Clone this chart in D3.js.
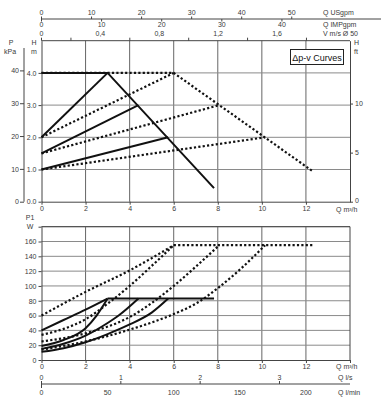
<!DOCTYPE html>
<html>
<head>
<meta charset="utf-8">
<script src="https://cdn.jsdelivr.net/npm/d3@7"></script>
<style>
  body { margin: 0; background: #fff; }
  svg { display: block; }
  text { font-family: "Liberation Sans", Arial, sans-serif; font-size: 7px; fill: #3a3a3a; }
</style>
</head>
<body>
<svg id="chart" width="383" height="405"></svg>
<script>
// ---- tick values ----
const qTicks = [0, 2, 4, 6, 8, 10, 12];
const headTicksM = [0, 1, 2, 3, 4];
const headTicksKpa = [0, 10, 20, 30, 40];
const headTicksFt = [0, 5, 10];
const powerTicks = [0, 20, 40, 60, 80, 100, 120, 140, 160];
const usgpmTicks = [0, 10, 20, 30, 40, 50];
const impgpmTicks = [0, 10, 20, 30, 40];
const velLabels = [0, 0.4, 0.8, 1.2, 1.6];
const velMinor = [0.2, 0.6, 1.0, 1.4, 1.8];
const lsTicks = [0, 1, 2, 3];
const lminTicks = [0, 50, 100, 150, 200];

// ---- head curves [Q m3/h, H m] ----
const headSolidMax = [[0, 4], [3, 4], [7.83, 0.42]];
const headSolidDp = [
  [[0, 2], [3, 4]],
  [[0, 1.5], [4.4, 3]],
  [[0, 1], [5.75, 2]],
];
const headDotMax = [[0, 4], [6, 4], [12.3, 0.95]];
const headDotDp = [
  [[0, 2], [6, 4]],
  [[0, 1.5], [8.07, 3]],
  [[0, 1], [10.15, 2]],
];

// ---- power curves [Q m3/h, P1 W] ----
const powerSolidRise = [
  [[0, 40], [1, 54], [2, 68], [3, 83]],
  [[0, 19], [1, 27], [2, 43], [2.5, 60], [3, 83]],
  [[0, 15], [1, 22], [2, 33], [3, 50], [3.5, 60], [4.4, 83]],
  [[0, 11], [1, 16], [2, 24], [3, 35], [4, 48], [5, 64], [5.75, 83]],
];
const powerSolidFlat = [[3, 83], [7.83, 83]];
const powerDotRise = [
  [[0, 60], [2, 92], [4, 121], [6, 155]],
  [[0, 34], [1, 42], [2, 55], [3, 76], [4, 100], [5, 127], [6, 155]],
  [[0, 25], [2, 36], [4, 58], [6, 100], [7, 126], [8.07, 155]],
  [[0, 14], [2, 25], [4, 41], [6, 62], [7, 76], [8, 97], [9, 122], [10.15, 155]],
];
const powerDotFlat = [[6, 155], [12.3, 155]];

// unit conversions to m3/h
const USGPM = 0.22712, IMPGPM = 0.27277, LS = 3.6, LMIN = 0.06, VEL = 6.68;
const KPA_PER_M = 9.81, FT_PER_M = 3.2808;

const svg = d3.select("#chart");
const root = svg.append("g").attr("opacity", 0.999);

const x = d3.scaleLinear().domain([0, 14]).range([41.5, 350]);
const yH = d3.scaleLinear().domain([0, 5]).range([201.7, 40.7]);
const yP = d3.scaleLinear().domain([0, 180]).range([360, 226.7]);

const gridColor = "#8a8a8a";
const axisColor = "#444";

function grid(g, y, yTicks, y0, y1) {
  g.selectAll(".vg")
    .data(qTicks.slice(1))
    .join("line")
    .attr("x1", (d) => x(d)).attr("x2", (d) => x(d))
    .attr("y1", y0).attr("y2", y1)
    .attr("stroke", "#666").attr("stroke-width", 1);
  g.selectAll(".hg")
    .data(yTicks.slice(1))
    .join("line")
    .attr("x1", x(0)).attr("x2", x(14))
    .attr("y1", (d) => y(d)).attr("y2", (d) => y(d))
    .attr("stroke", gridColor).attr("stroke-width", 1);
}

function styleAxis(g) {
  g.select(".domain").attr("stroke", axisColor);
  g.selectAll(".tick line").attr("stroke", axisColor);
}

// ============ TOP: head chart ============
const headG = root.append("g").attr("class", "head");
grid(headG.append("g"), yH, headTicksM, yH(0), yH(5));

headG.append("line").attr("x1", x(0)).attr("x2", x(14)).attr("y1", yH(5)).attr("y2", yH(5))
  .attr("stroke", axisColor);

headG.append("g")
  .attr("transform", `translate(${x(0)},0)`)
  .call(d3.axisLeft(yH).tickValues(headTicksM).tickSize(3).tickSizeOuter(0).tickPadding(2))
  .call(styleAxis);

headG.append("g")
  .attr("transform", `translate(0,${yH(0)})`)
  .call(d3.axisBottom(x).tickValues(qTicks).tickSize(3).tickSizeOuter(0).tickPadding(1))
  .call(styleAxis);

const yFt = d3.scaleLinear().domain([0, 5 * FT_PER_M]).range(yH.range());
const ftAxis = headG.append("g")
  .attr("transform", `translate(${x(14)},0)`)
  .call(d3.axisRight(yFt).tickValues(headTicksFt).tickSize(3).tickSizeOuter(0).tickPadding(2))
  .call(styleAxis);
ftAxis.selectAll(".tick text").filter((d) => d === 0).attr("dy", "0.1em");

const yKpa = d3.scaleLinear().domain([0, 5 * KPA_PER_M]).range(yH.range());
const kpaAxis = headG.append("g")
  .attr("transform", "translate(24,0)")
  .call(d3.axisLeft(yKpa).tickValues(headTicksKpa).tickSize(4).tickSizeOuter(0).tickPadding(1))
  .call(styleAxis);
kpaAxis.select(".domain").remove();
kpaAxis.append("line").attr("y1", 48).attr("y2", yH(0)).attr("stroke", axisColor);

// velocity ticks on top frame
const xV = (v) => x(v * VEL);
headG.selectAll(".vtick").data(velMinor).join("line")
  .attr("x1", xV).attr("x2", xV).attr("y1", yH(5) - 3).attr("y2", yH(5))
  .attr("stroke", axisColor);
headG.append("line").attr("x1", x(0)).attr("x2", x(0)).attr("y1", yH(5) - 3).attr("y2", yH(5))
  .attr("stroke", axisColor);
headG.selectAll(".vlab").data(velLabels).join("text")
  .attr("x", xV).attr("y", 35.5).attr("text-anchor", "middle")
  .text((d) => (d === 0 ? "0" : d3.format(".1f")(d).replace(".", ",")));

// USgpm / IMPgpm shared line
headG.append("line").attr("x1", x(0)).attr("x2", 381).attr("y1", 19).attr("y2", 19).attr("stroke", axisColor);
headG.selectAll(".us").data(usgpmTicks).join("line")
  .attr("x1", (d) => x(d * USGPM)).attr("x2", (d) => x(d * USGPM))
  .attr("y1", 16.5).attr("y2", 19).attr("stroke", axisColor);
headG.selectAll(".uslab").data(usgpmTicks).join("text")
  .attr("x", (d) => x(d * USGPM)).attr("y", 15).attr("text-anchor", "middle").text((d) => d);
headG.selectAll(".imp").data(impgpmTicks).join("line")
  .attr("x1", (d) => x(d * IMPGPM)).attr("x2", (d) => x(d * IMPGPM))
  .attr("y1", 19).attr("y2", 21.5).attr("stroke", axisColor);
headG.selectAll(".implab").data(impgpmTicks).join("text")
  .attr("x", (d) => x(d * IMPGPM)).attr("y", 27).attr("text-anchor", "middle").text((d) => d);

headG.append("text").attr("x", 323).attr("y", 15).text("Q USgpm");
headG.append("text").attr("x", 323).attr("y", 27).text("Q IMPgpm");
headG.append("text").attr("x", 323).attr("y", 35.5).text("V m/s Ø 50");

headG.append("text").attr("x", 34).attr("y", 45).attr("text-anchor", "middle").text("H");
headG.append("text").attr("x", 34).attr("y", 54).attr("text-anchor", "middle").text("m");
headG.append("text").attr("x", 11).attr("y", 45).attr("text-anchor", "middle").text("P");
headG.append("text").attr("x", 10).attr("y", 54).attr("text-anchor", "middle").text("kPa");
headG.append("text").attr("x", 354).attr("y", 45).text("H");
headG.append("text").attr("x", 354).attr("y", 54).text("ft");
headG.append("text").attr("x", 336).attr("y", 211.5).text("Q m³/h");

// legend box
headG.append("rect").attr("x", 290.5).attr("y", 49.5).attr("width", 53).attr("height", 15)
  .attr("fill", "#fff").attr("stroke", "#222").attr("stroke-width", 1);
headG.append("text").attr("x", 317).attr("y", 60.5).attr("text-anchor", "middle")
  .style("font-size", "9px").style("fill", "#111").text("Δp-v Curves");

const lineH = d3.line().x((d) => x(d[0])).y((d) => yH(d[1]));
const dotStyle = (s) => s.attr("fill", "none").attr("stroke", "#111").attr("stroke-width", 2.2)
  .attr("stroke-dasharray", "2.2,2.2");
const solidStyle = (s) => s.attr("fill", "none").attr("stroke", "#111").attr("stroke-width", 2);

headG.selectAll(".hdot").data([headDotMax, ...headDotDp]).join("path")
  .attr("d", lineH).call(dotStyle);
headG.selectAll(".hsolid").data([headSolidMax, ...headSolidDp]).join("path")
  .attr("d", lineH).call(solidStyle);

// ============ BOTTOM: power chart ============
const powerG = root.append("g").attr("class", "power");
grid(powerG.append("g"), yP, powerTicks.concat([180]), yP(0), yP(180));

powerG.append("line").attr("x1", x(0)).attr("x2", x(14)).attr("y1", yP(180)).attr("y2", yP(180))
  .attr("stroke", axisColor);
powerG.append("line").attr("x1", x(14)).attr("x2", x(14)).attr("y1", yP(180)).attr("y2", yP(0))
  .attr("stroke", axisColor);

powerG.append("g")
  .attr("transform", `translate(${x(0)},0)`)
  .call(d3.axisLeft(yP).tickValues(powerTicks.concat([180])).tickFormat((d) => (d === 180 ? "" : d))
    .tickSize(3).tickSizeOuter(0).tickPadding(2))
  .call(styleAxis);

powerG.append("g")
  .attr("transform", `translate(0,${yP(0)})`)
  .call(d3.axisBottom(x).tickValues(qTicks.concat([14])).tickFormat((d) => (d === 14 ? "" : d))
    .tickSize(3).tickSizeOuter(0).tickPadding(1))
  .call(styleAxis);

powerG.append("text").attr("x", 30).attr("y", 220).attr("text-anchor", "middle").text("P1");
powerG.append("text").attr("x", 30).attr("y", 228.5).attr("text-anchor", "middle").text("W");
powerG.append("text").attr("x", 336).attr("y", 368.5).text("Q m³/h");

// l/s and l/min shared line
powerG.append("line").attr("x1", x(0)).attr("x2", x(14)).attr("y1", 384).attr("y2", 384).attr("stroke", axisColor);
powerG.selectAll(".ls").data(lsTicks).join("line")
  .attr("x1", (d) => x(d * LS)).attr("x2", (d) => x(d * LS))
  .attr("y1", 381).attr("y2", 384).attr("stroke", axisColor);
powerG.selectAll(".lslab").data(lsTicks).join("text")
  .attr("x", (d) => x(d * LS)).attr("y", 380).attr("text-anchor", "middle").text((d) => d);
powerG.append("line").attr("x1", x(0)).attr("x2", x(0)).attr("y1", 384).attr("y2", 388).attr("stroke", axisColor);
powerG.selectAll(".lminlab").data(lminTicks).join("text")
  .attr("x", (d) => x(d * LMIN)).attr("y", 395).attr("text-anchor", "middle").text((d) => d);
powerG.append("text").attr("x", 338).attr("y", 380).text("Q l/s");
powerG.append("text").attr("x", 338).attr("y", 395).text("Q l/min");

const lineP = d3.line().x((d) => x(d[0])).y((d) => yP(d[1])).curve(d3.curveMonotoneX);
powerG.selectAll(".pdot").data([...powerDotRise, powerDotFlat]).join("path")
  .attr("d", lineP).call(dotStyle);
powerG.selectAll(".psolid").data([...powerSolidRise, powerSolidFlat]).join("path")
  .attr("d", lineP).call(solidStyle);
</script>
</body>
</html>
